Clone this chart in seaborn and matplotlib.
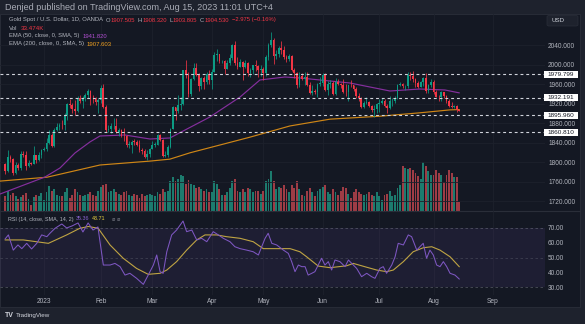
import numpy as np
import pandas as pd
import matplotlib
matplotlib.use("Agg")
import matplotlib.pyplot as plt
import seaborn as sns
from matplotlib.patches import Rectangle, FancyBboxPatch

# ---------------- data ----------------
first_day = "2022-12-12"
last_day = "2023-08-15"

opens = [1797,1781,1810,1807,1777,1793,1788,1817,1814,1792,1798,1797,1814,1804,1815,
 1824,1826,1839,1855,1833,1865,1872,1877,1875,1897,1920,1916,1908,1904,1932,1926,1931,1937,1946,1930,1929,1923,
 1928,1951,1912,1865,1867,1873,1874,1862,1865,1854,1853,1836,1836,1842,1841,1835,1825,1822,1811,1817,
 1827,1836,1836,1855,1846,1813,1814,1831,1868,1913,1904,1918,1919,1989,1978,1940,1970,1993,1978,1956,1973,1964,1980,
 1969,1985,2020,2021,2007,2008,1991,2003,2014,2040,2004,1995,2005,1994,2004,1983,1989,1998,1996,1989,
 1990,1983,2016,2039,2050,2017,2021,2034,2030,2015,2011,2017,1989,1982,1958,1977,1971,1975,1957,1941,1946,1943,1960,
 1963,1978,1948,1961,1963,1940,1965,1961,1957,1944,1943,1958,1957,1950,1936,1932,1913,1921,1923,1914,1907,1908,
 1919,1921,1926,1915,1911,1925,1925,1932,1957,1961,1955,1955,1979,1977,1970,1962,1954,1965,1972,1945,1959,
 1965,1944,1934,1933,1943,1936,1925,1914,1912,1914,1907.505]
closes = [1781,1810,1807,1777,1793,1788,1817,1814,1792,1798,1797,1814,1804,1815,1824,
 1826,1839,1855,1833,1865,1872,1877,1875,1897,1920,1916,1908,1904,1932,1926,1931,1937,1946,1930,1929,1923,1928,
 1951,1912,1865,1867,1873,1874,1862,1865,1854,1853,1836,1836,1842,1841,1835,1825,1822,1811,1817,1827,
 1836,1836,1855,1846,1813,1814,1831,1868,1913,1904,1918,1919,1989,1978,1940,1970,1993,1978,1956,1973,1964,1980,1969,
 1985,2020,2021,2007,2008,1991,2003,2014,2040,2004,1995,2005,1994,2004,1983,1989,1998,1996,1989,1990,
 1983,2016,2039,2050,2017,2021,2034,2030,2015,2011,2017,1989,1982,1958,1977,1971,1975,1957,1941,1946,1943,1960,1963,
 1978,1948,1961,1963,1940,1965,1961,1957,1944,1943,1958,1957,1950,1936,1932,1913,1921,1923,1914,1907,1908,1919,
 1921,1926,1915,1911,1925,1925,1932,1957,1961,1955,1955,1979,1977,1970,1962,1954,1965,1972,1945,1959,1965,
 1944,1934,1933,1943,1936,1925,1914,1912,1914,1907.5,1904.53]
highs = [1798,1824,1814,1808,1800,1799,1822,1823,1823,1804,1800,1833,1815,1820,1827,
 1830,1850,1865,1859,1869,1881,1880,1886,1901,1921,1930,1922,1928,1936,1938,1935,1942,1949,1948,1938,1934,1932,
 1957,1960,1918,1875,1880,1890,1890,1870,1868,1870,1856,1843,1845,1847,1846,1845,1828,1827,1824,1828,
 1843,1842,1857,1858,1847,1823,1834,1870,1914,1913,1937,1933,1989,2010,1984,1973,2003,2004,1983,1975,1977,1985,1988,
 1990,2025,2032,2022,2010,2010,2009,2022,2042,2048,2015,2012,2008,2009,2006,1992,2000,2009,2000,1998,
 1995,2019,2045,2067,2055,2030,2037,2048,2037,2020,2022,2019,1993,1985,1984,1983,1985,1985,1964,1957,1949,1962,1974,
 1983,1983,1966,1969,1966,1973,1971,1963,1970,1960,1959,1968,1957,1954,1941,1934,1925,1933,1925,1916,1916,1921,
 1929,1931,1930,1920,1935,1931,1936,1960,1964,1963,1958,1984,1985,1987,1972,1966,1966,1975,1982,1961,1970,
 1968,1947,1938,1946,1944,1937,1929,1923,1918,1916,1908.32]
lows = [1776,1779,1800,1773,1776,1784,1784,1810,1784,1790,1795,1796,1798,1803,1808,
 1822,1822,1838,1831,1830,1864,1866,1867,1866,1887,1910,1901,1896,1902,1922,1911,1925,1932,1918,1921,1916,1900,
 1921,1910,1861,1861,1860,1868,1860,1853,1852,1843,1830,1829,1819,1836,1832,1821,1817,1809,1805,1810,
 1826,1830,1835,1843,1810,1810,1810,1828,1867,1886,1900,1907,1917,1972,1934,1936,1968,1977,1945,1950,1950,1961,1960,
 1950,1984,2008,2004,2003,1981,1990,2000,2010,2000,1991,1994,1969,1992,1977,1974,1980,1987,1974,1976,
 1969,1976,2010,2035,2002,2011,2015,2022,2011,2006,2008,1987,1973,1952,1953,1968,1958,1955,1939,1937,1940,1933,1955,
 1956,1946,1938,1952,1938,1938,1959,1952,1942,1935,1925,1953,1945,1932,1926,1911,1910,1919,1912,1903,1893,1900,
 1902,1919,1912,1901,1908,1915,1921,1929,1955,1952,1947,1952,1969,1965,1953,1951,1953,1956,1942,1942,1953,
 1940,1933,1926,1926,1931,1922,1913,1911,1910,1903,1903.805]
volumes_k = [56,74,60,67,56,45,52,60,67,45,22,52,60,56,67,
 40,70,93,75,80,60,55,55,70,85,50,60,80,70,60,55,60,65,70,60,55,75,
 90,95,100,70,75,80,70,65,60,70,75,60,55,65,60,50,65,55,60,65,
 60,55,70,65,80,70,75,110,125,110,120,135,130,100,115,100,95,85,90,80,75,80,70,
 70,110,100,80,60,60,70,85,110,120,75,70,80,70,85,80,70,75,75,65,
 75,110,120,150,110,80,90,85,95,80,70,95,85,110,80,60,55,75,85,70,55,75,80,
 90,95,70,65,80,70,60,75,90,85,65,50,70,80,70,65,60,65,70,60,55,70,
 55,40,60,65,75,55,60,85,95,167,160,156,160,152,141,130,119,182,167,150,134,
 134,152,140,134,108,134,152,140,126,126,33.474]

# EMA lines, sampled along the trading-day axis (0 = first bar)
ema50_day = [-2.05,15.4,21.2,27,32.8,36.7,46.4,56.1,63.8,69.7,79.3,91,98.7,108.4,114.2,133.6,149.1,160.7,170.4,176]
ema50_val = [1734.5,1769.4,1787.9,1818.6,1841.2,1853.5,1855.5,1847.3,1849.4,1865.8,1892.4,1933.4,1968.3,1974.4,
             1972.4,1962.1,1945.7,1949.8,1947.8,1941.82]
ema200_day = [-2.05,16.2,36.7,56.1,63.8,71.6,83.2,94.8,110.3,125.9,145.2,160.7,172.4,176]
ema200_val = [1761,1769,1794,1802,1806,1819,1835,1851,1874,1888,1894,1901,1907,1907.603]

rsi_day = [-0.1,1.2,3.1,4.9,6.4,8.3,10.2,12.2,14.1,16.1,17.3,19.3,21.9,23.8,25.9,28.2,30.1,32.1,34.0,35.9,
 38.0,40.6,42.5,44.5,46.4,48.3,50.9,53.5,55.4,57.4,58.7,60.0,61.2,62.6,64.5,66.4,68.9,70.3,72.3,74.2,
 76.1,78.1,80.6,82.6,84.5,87.1,89.0,91.0,93.6,96.1,98.1,100.7,101.9,103.3,105.2,107.8,109.7,111.0,112.3,113.6,
 114.9,116.2,117.4,118.8,120.0,121.3,122.6,123.9,125.2,126.5,127.8,129.7,131.7,133.0,134.3,136.2,138.1,140.1,142.0,143.3,
 145.2,146.5,147.8,149.8,151.1,152.3,154.3,156.2,157.5,159.5,160.7,162.0,163.3,164.6,165.9,167.2,168.5,169.8,171.1,172.4,
 174.3,176.0]
rsi_val = [62.5,65.3,55,58.5,56,59.6,55.8,59.6,65.3,64.1,66.4,69.8,72.7,70.0,71.4,73.4,67.3,73.4,68.6,70.7,
 44.9,44.9,46,43.8,38.1,39.3,35.9,31.8,38.1,44.9,51.7,40.4,39.3,53.9,65.3,68.6,74.7,67.5,68.6,61.9,
 63,60.7,67.5,65.3,63,60.7,57.3,56,55,53.9,51.7,63,66.4,59.6,58.5,55,52.8,47.2,40.4,44.9,
 43.8,43.8,38.1,39.3,40.4,44.9,49.5,44.9,47.2,41.5,48.3,47.2,43.8,48.3,46,42.6,37,39.3,37,35.9,
 42.6,43.8,39.3,44.9,50.5,59.6,58.5,65.3,64.1,55,57.3,59.6,49.5,55,51.7,44.9,43.8,47.2,43.8,39.3,
 38.1,35.36]
rsima_day = [-0.1,7.0,16.7,23.8,28.9,32.2,36.0,40.6,45.7,50.9,55.4,60.0,62.6,66.4,70.3,74.2,77.4,81.9,85.8,91.0,
 96.1,100.0,105.2,110.4,114.2,116.8,121.3,125.9,132.3,134.9,140.1,144.0,147.8,150.4,154.3,158.1,162.0,165.3,168.5,172.4,176.0]
rsima_val = [61.9,61.9,59.6,65.3,69.8,71,69.8,58.5,49.5,42.6,38.6,39.3,41.5,47.2,55,61.9,65.3,65.3,64.1,63,
 60.7,56,56,56,53.9,50.5,44.2,43.1,44.4,46,43.4,41.5,40.4,41.5,47.2,53.9,56.6,57.3,55,50.5,43.71]

levels = [1979.799, 1932.191, 1895.960, 1860.810]
price_ticks = [1720, 1760, 1800, 1840, 1880, 1920, 1960, 2000, 2040]
rsi_ticks = [30, 40, 50, 60, 70]
month_starts = ["2023-01-02", "2023-02-01", "2023-03-01", "2023-04-03", "2023-05-01",
                "2023-06-01", "2023-07-03", "2023-08-01", "2023-09-01"]
month_labels = ["2023", "Feb", "Mar", "Apr", "May", "Jun", "Jul", "Aug", "Sep"]

header = "Denjed published on TradingView.com, Aug 15, 2023 11:01 UTC+4"
symbol = "Gold Spot / U.S. Dollar, 1D, OANDA"
ohlc_text = [("O", "1907.505"), ("H", "1908.320"), ("L", "1903.805"), ("C", "1904.530")]
change_text = "\u22122.975 (\u22120.16%)"
vol_text = "33.474K"
ema50_label, ema50_last = "EMA (50, close, 0, SMA, 5)", "1941.820"
ema200_label, ema200_last = "EMA (200, close, 0, SMA, 5)", "1907.603"
rsi_label, rsi_last, rsima_last = "RSI (14, close, SMA, 14, 2)", "35.36", "43.71"

# ---------------- style ----------------
sns.set_theme(style="dark")
plt.rcParams["font.family"] = ["Liberation Sans", "DejaVu Sans"]
plt.rcParams["axes.unicode_minus"] = False

BG = "#141823"
FRAME = "#1e222d"
GRID = "#1d212c"
TXT = "#b2b5be"
UP, DN = "#0c9b84", "#f23645"
VUP, VDN = "#1c7b6e", "#9e3c45"
C50, C200 = "#852f9e", "#cf8616"
CRSI, CRSIMA = "#7e57c2", "#bfa443"

W, H = 585, 324
fig = plt.figure(figsize=(W / 100, H / 100), dpi=100)
fig.patch.set_facecolor(FRAME)
renderer = fig.canvas.get_renderer()


def axes_px(x0, y0, x1, y1, z):
    a = fig.add_axes([x0 / W, 1 - y1 / H, (x1 - x0) / W, (y1 - y0) / H])
    a.set_zorder(z)
    return a


# chart background panel
fig.patches.append(Rectangle((0, 1 - 307 / H), 580 / W, (307 - 14) / H, transform=fig.transFigure,
                             facecolor=BG, edgecolor="#2a2e39", lw=0.6, zorder=-10))

n = min(len(opens), len(closes), len(highs), len(lows), len(volumes_k))
days = pd.bdate_range(first_day, last_day)[:n]
ext_days = pd.bdate_range(first_day, "2023-09-29")
xs = np.arange(n)
o = np.array(opens[:n], float); c = np.array(closes[:n], float)
hi = np.array(highs[:n], float); lo = np.array(lows[:n], float)
vol = np.array(volumes_k[:n], float)
up = c >= o

month_pos = [int(ext_days.searchsorted(pd.Timestamp(d))) for d in month_starts]

XL = (-2.05, 209.2)

# volume axis (behind)
ax_vol = axes_px(0, 14, 545, 211, 1)
ax_vol.set_facecolor("none")
for p in month_pos:
    ax_vol.axvline(p, color=GRID, lw=0.6, zorder=0)
ax_vol.bar(xs, vol, width=0.72, color=np.where(up, VUP, VDN), linewidth=0, zorder=1)
ax_vol.set_xlim(*XL); ax_vol.set_ylim(0, 733)
ax_vol.set_xticks([]); ax_vol.set_yticks([])
for s in ax_vol.spines.values():
    s.set_visible(False)

# main price axis
ax = axes_px(0, 14, 545, 211, 2)
ax.set_facecolor("none")
ax.patch.set_alpha(0)
ax.set_xlim(*XL); ax.set_ylim(1699.7, 2103.55)
for v in price_ticks:
    ax.axhline(v, color=GRID, lw=0.6, zorder=0)

sns.lineplot(x=ema200_day, y=ema200_val, ax=ax, color=C200, lw=0.85, estimator=None, sort=False, zorder=2)
sns.lineplot(x=ema50_day, y=ema50_val, ax=ax, color=C50, lw=0.85, estimator=None, sort=False, zorder=2)

cols = np.where(up, UP, DN)
ax.vlines(xs, np.minimum(lo, np.minimum(o, c)), np.maximum(hi, np.maximum(o, c)), colors=cols, lw=0.55, zorder=3)
body_h = np.maximum(np.abs(c - o), 1.2)
ax.bar(xs, body_h, bottom=np.minimum(o, c), width=0.68, color=cols, linewidth=0, zorder=4)

for lv in levels:
    ax.axhline(lv, color="#d1d4dc", lw=0.8, dashes=(2.6, 2.6), zorder=5)

ax.yaxis.tick_right()
ax.set_yticks(price_ticks)
ax.set_yticklabels([f"{v:.3f}" for v in price_ticks])
ax.tick_params(axis="y", length=0, pad=2.2, labelsize=4.7, labelcolor=TXT)
ax.set_xticks([])
ax.set_xlabel(""); ax.set_ylabel("")
for s in ax.spines.values():
    s.set_visible(False)

# RSI axis
ar = axes_px(0, 211, 545, 295, 2)
ar.set_facecolor("none")
ar.set_xlim(*XL); ar.set_ylim(24.6, 81.5)
for p in month_pos:
    ar.axvline(p, color=GRID, lw=0.6, zorder=0)
ar.axhspan(30, 70, color="#7e57c2", alpha=0.10, lw=0, zorder=0)
for v, a in [(70, 0.55), (50, 0.35), (30, 0.55)]:
    ar.axhline(v, color="#787b86", lw=0.6, alpha=a, dashes=(3, 3), zorder=1)
sns.lineplot(x=rsima_day, y=rsima_val, ax=ar, color=CRSIMA, lw=0.8, estimator=None, sort=False, zorder=2)
sns.lineplot(x=rsi_day, y=rsi_val, ax=ar, color=CRSI, lw=0.75, estimator=None, sort=False, zorder=3)
ar.yaxis.tick_right()
ar.set_yticks(rsi_ticks)
ar.set_yticklabels([f"{v:.2f}" for v in rsi_ticks])
ar.tick_params(axis="y", length=0, pad=2.2, labelsize=4.7, labelcolor=TXT)
ar.set_xticks(month_pos)
ar.set_xticklabels(month_labels)
ar.tick_params(axis="x", length=0, pad=2.4, labelsize=4.8, labelcolor=TXT)
ar.set_xlabel(""); ar.set_ylabel("")
for s in ar.spines.values():
    s.set_visible(False)

# pane separator
fig.add_artist(plt.Line2D([0, 580 / W], [1 - 211 / H] * 2, transform=fig.transFigure, color="#2a2e39", lw=0.8))

# level labels on the price scale
for lv in levels:
    yd = ax.transData.transform((0, lv))[1]
    yf = yd / H
    fig.patches.append(Rectangle((544 / W, yf - 3.7 / H), 34 / W, 7.4 / H, transform=fig.transFigure,
                                 facecolor="#ffffff", edgecolor="none", zorder=10))
    fig.text(547.5 / W, yf, f"{lv:.3f}", color="#131722", fontsize=4.6, va="center", ha="left", zorder=11)

# USD box
fig.patches.append(FancyBboxPatch((547 / W, 1 - 26 / H), 31 / W, 10.5 / H, transform=fig.transFigure,
                                  boxstyle="round,pad=0,rounding_size=0.004", facecolor="#1e222d",
                                  edgecolor="#2a2e39", lw=0.5, zorder=10))
fig.text(552 / W, 1 - 20.5 / H, "USD", color="#d1d4dc", fontsize=4.4, va="center", ha="left", zorder=11)


def text_row(x, y, pieces, size, target=None, weight="normal"):
    """pieces: list of (text, color, gap_em_after)"""
    def render(sz):
        arts, cx = [], x
        em = sz * 100 / 72
        for s, col, gap in pieces:
            t = fig.text(cx / W, 1 - y / H, s, color=col, fontsize=sz, va="center", ha="left",
                         weight=weight, zorder=12)
            cx += t.get_window_extent(renderer).width + gap * em
            arts.append(t)
        return arts, cx - x - pieces[-1][2] * em
    arts, w = render(size)
    if target:
        for a in arts:
            a.remove()
        arts, w = render(size * target / w)
    return arts


GRAY = "#b2b5be"
RED = "#f23645"
text_row(5, 7.5, [(header, "#a9acb6", 0)], 5.5, target=268)
row = [(symbol, GRAY, 0.45)]
for k, v in ohlc_text:
    row += [(k, GRAY, 0.05), (v, RED, 0.45)]
row += [(change_text, RED, 0)]
text_row(9, 20, row, 4.2, target=270)
text_row(9, 28, [("Vol", GRAY, 0.45), (vol_text, RED, 0)], 4.2, target=34)
text_row(9, 36, [(ema50_label, GRAY, 0.45), (ema50_last, "#b04fd0", 0)], 4.2, target=99)
text_row(9, 44, [(ema200_label, GRAY, 0.45), (ema200_last, "#f0a020", 0)], 4.2, target=103)
text_row(8, 219, [(rsi_label, GRAY, 0.45), (rsi_last, "#8a63d2", 0.45), (rsima_last, "#e8cf3f", 0)], 4.2, target=99)
fig.text(112 / W, 1 - 219 / H, "\u2300 \u2300", color="#787b86", fontsize=4.0, va="center", ha="left",
         family=["DejaVu Sans"])

# footer logo
text_row(5, 315.5, [("TV", "#d1d4dc", 0)], 5, target=9, weight="bold")
text_row(16, 315.5, [("TradingView", "#d1d4dc", 0)], 5, target=35)

fig.savefig("out.png", dpi=100, facecolor=fig.get_facecolor())
